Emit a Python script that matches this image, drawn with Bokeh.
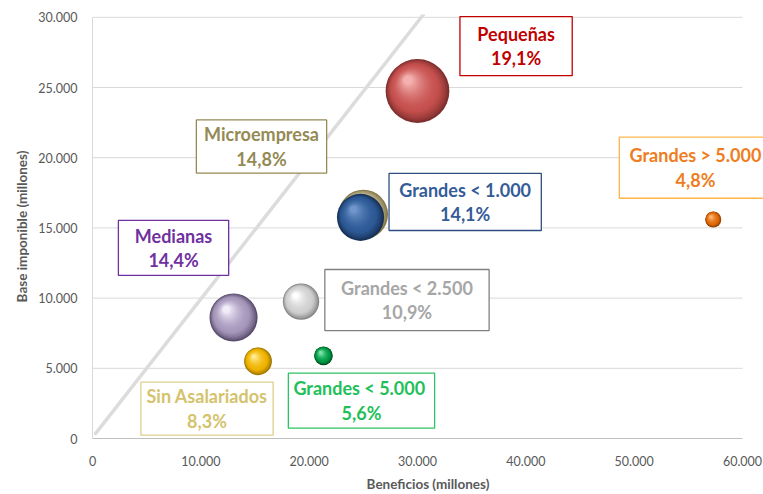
from bokeh.plotting import figure
from bokeh.models import Label, CustomJSTickFormatter, Range1d
from bokeh.embed import file_html
from bokeh.resources import INLINE

# ---------------- data ----------------
sectores = ["Sin Asalariados", "Microempresa", "Pequeñas", "Medianas",
            "Grandes < 1.000", "Grandes < 2.500", "Grandes  < 5.000", "Grandes > 5.000"]
beneficios = [15280, 25000, 30000, 13020, 24740, 19250, 21320, 57300]
base_imponible = [5500, 15960, 24750, 8620, 15750, 9750, 5890, 15600]
porcentaje = [8.3, 14.8, 19.1, 14.4, 14.1, 10.9, 5.6, 4.8]
x_ticks = [0, 10000, 20000, 30000, 40000, 50000, 60000]
y_ticks = [0, 5000, 10000, 15000, 20000, 25000, 30000]
diag_x = [280, 30550]
diag_y = [350, 30200]

# ---------------- layout / style ----------------
W, H = 763, 494
ML, MR, MT, MB = 92, 0, 14, 54
X_MAX, Y_MAX = 60000, 30000          # axis extent
PX_PER_X = 650 / 60000               # horizontal scale (px per unit)
fw = W - ML - MR
fh = H - MT - MB
X0, X1 = 0, fw / PX_PER_X            # frame reaches the right edge of the page
Y0, Y1 = 0, 30200
K = 1.67  # px radius per percentage point

# base, dark, light colours of each sphere
esferas = {
    "Sin Asalariados": ("#F0B400", "#9C7400", "#FFE98A"),
    "Microempresa": ("#BDB38A", "#857A4E", "#E8E2C8"),
    "Pequeñas": ("#C6504E", "#7E2F2E", "#F3B0AE"),
    "Medianas": ("#A697BB", "#5A4D6C", "#F2ECFA"),
    "Grandes < 1.000": ("#2D5A96", "#172F55", "#7096CB"),
    "Grandes < 2.500": ("#CFCFCF", "#858585", "#FFFFFF"),
    "Grandes  < 5.000": ("#009E48", "#004F22", "#80E2A8"),
    "Grandes > 5.000": ("#E06A0C", "#8E3D00", "#FFB678"),
}

# label boxes: centre (data), width/height (px), text colour, border colour
etiquetas = {
    "Sin Asalariados": (10570, 2130, 133, 56, "#D4C36C", "#DDD08C"),
    "Microempresa": (15600, 20800, 130, 57, "#948A54", "#948A54"),
    "Pequeñas": (39100, 27950, 113, 62, "#C00000", "#C00000"),
    "Medianas": (7480, 13580, 110, 59, "#7030A0", "#7030A0"),
    "Grandes < 1.000": (34400, 16850, 152, 61, "#345C97", "#2F4F80"),
    "Grandes < 2.500": (29030, 9860, 165, 64, "#A6A6A6", "#808080"),
    "Grandes  < 5.000": (24830, 2700, 146, 58, "#1FBF5A", "#2BC464"),
    "Grandes > 5.000": (55660, 19290, 152, 64, "#EE7D22", "#FFB547"),
}

p = figure(width=W, height=H, output_backend="svg", toolbar_location=None,
           x_range=Range1d(X0, X1), y_range=Range1d(Y0, Y1),
           min_border_left=ML, min_border_right=MR, min_border_top=MT, min_border_bottom=MB)
p.outline_line_color = None
p.background_fill_color = "white"
p.border_fill_color = "white"

fmt = CustomJSTickFormatter(code="return tick.toFixed(0).replace(/\\B(?=(\\d{3})+(?!\\d))/g, '.');")
for ax in (p.xaxis, p.yaxis):
    ax.formatter = fmt
    ax.major_tick_line_color = None
    ax.minor_tick_line_color = None
    ax.major_label_text_font = "Lato"
    ax.major_label_text_font_size = "12.5px"
    ax.major_label_text_color = "#595959"
    ax.axis_label_text_font = "Lato"
    ax.axis_label_text_font_style = "bold"
    ax.axis_label_text_font_size = "13.5px"
    ax.axis_label_text_color = "#595959"
p.xaxis.ticker = x_ticks
p.yaxis.ticker = y_ticks
p.xaxis.major_label_standoff = 11
p.yaxis.major_label_standoff = 9
p.xaxis.axis_label = "Beneficios (millones)"
p.yaxis.axis_label = "Base imponible (millones)"
p.xaxis.axis_label_standoff = 7
p.yaxis.axis_label_standoff = 5
p.xaxis.axis_line_color = "#BFBFBF"
p.yaxis.axis_line_color = "#D9D9D9"
p.xaxis.bounds = (0, X_MAX)
p.yaxis.bounds = (0, Y_MAX)
p.xgrid.visible = False
p.ygrid.visible = False

# horizontal gridlines, limited to the axis extent
p.segment(x0=[0] * len(y_ticks), y0=y_ticks, x1=[X_MAX] * len(y_ticks), y1=y_ticks,
          line_color="#D9D9D9", line_width=1)

# diagonal reference line
p.line(diag_x, diag_y, line_color="#DCDCDC", line_width=3.5, line_cap="round")

# ---------------- spheres ----------------
sx = (X1 - X0) / fw
sy = (Y1 - Y0) / fh


def rgb(h):
    h = h.lstrip("#")
    return tuple(int(h[i:i + 2], 16) for i in (0, 2, 4))


def mix(a, b, t):
    a, b = rgb(a), rgb(b)
    return "#%02x%02x%02x" % tuple(int(round(a[k] + (b[k] - a[k]) * t)) for k in range(3))


N = 20
for i, name in enumerate(sectores):
    r = K * porcentaje[i]
    base, dark, light = esferas[name]
    xs, ys, sizes, cols = [], [], [], []
    for j in range(N):
        s = j / (N - 1)
        rr = r * (1 - 0.86 * s)
        ox = -0.30 * r * s
        oy = 0.34 * r * s
        if s < 0.28:
            c = mix(dark, base, (s / 0.28) ** 0.8)
        else:
            c = mix(base, light, ((s - 0.28) / 0.72) ** 1.6)
        xs.append(beneficios[i] + ox * sx)
        ys.append(base_imponible[i] + oy * sy)
        sizes.append(2 * rr)
        cols.append(c)
    p.scatter(xs, ys, size=sizes, fill_color=cols, line_color=None, marker="circle")

# ---------------- labels ----------------
for i, name in enumerate(sectores):
    lx, ly, bw, bh, tc, bc = etiquetas[name]
    box = Label(x=lx, y=ly, text=" ", text_font_size="1px",
                text_align="center", text_baseline="middle",
                background_fill_color="white", border_line_color=bc,
                border_line_width=1.3, padding=(bw // 2, (bh - 4) // 2))
    p.add_layout(box)
    pct = f"{porcentaje[i]:.1f}".replace(".", ",") + "%"
    txt = Label(x=lx, y=ly, text=f"{name}\n{pct}", text_align="center",
                text_baseline="middle", text_font="Lato", text_font_style="bold",
                text_font_size="18px", text_color=tc, text_line_height=1.12)
    p.add_layout(txt)

open("out.html", "w").write(file_html(p, INLINE))
